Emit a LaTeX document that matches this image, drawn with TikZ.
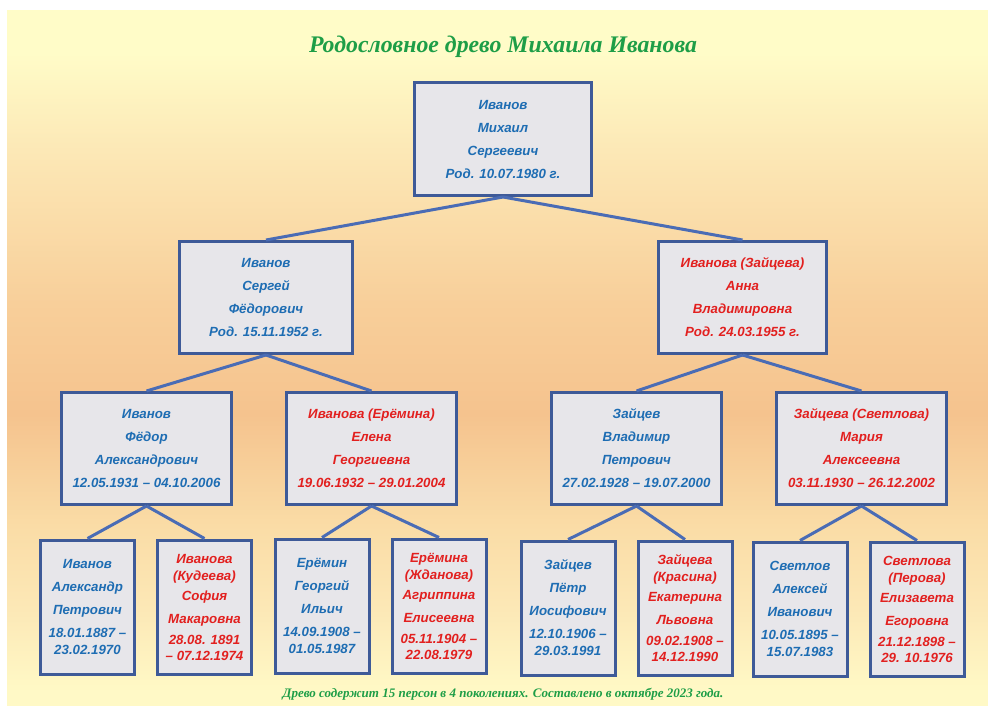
\documentclass[tikz,border=0pt]{standalone}
\usepackage{fontspec}
\setmainfont{Liberation Serif}
\setsansfont{Liberation Sans}
\usepackage{xcolor}
\usepackage{tikz}
\usetikzlibrary{positioning}

\definecolor{boxline}{HTML}{3E5A98}
\definecolor{linkline}{HTML}{4A6CB5}
\definecolor{boxfill}{HTML}{E7E6EA}
\definecolor{manblue}{HTML}{1E6DB3}
\definecolor{womanred}{HTML}{E2201F}
\definecolor{titlegreen}{HTML}{1E9E47}
\definecolor{bgtop}{HTML}{FFFCC8}
\definecolor{bgpale}{HTML}{FCE8B6}
\definecolor{bgpeach}{HTML}{F8CF9A}
\definecolor{bgmid}{HTML}{F5C38E}
\definecolor{bglow}{HTML}{FADCA6}
\definecolor{bgbot}{HTML}{FFF9C6}

\pgfdeclareverticalshading{treebg}{100bp}{color(0bp)=(bgbot); color(26bp)=(bgbot); color(32bp)=(bgpale); color(38bp)=(bglow); color(46bp)=(bgmid); color(54bp)=(bgpeach); color(65bp)=(bgpale); color(72bp)=(bgtop); color(100bp)=(bgtop)}

\begin{document}
\begin{tikzpicture}[x=1pt, y=-1pt, node distance=20pt]
                    % Define styles
                    \tikzstyle{person} = [rectangle, draw=boxline, line width=3pt, fill=boxfill, align=center, inner sep=0pt, font=\sffamily\bfseries\itshape\fontsize{13.3}{23}\selectfont]
                    \tikzstyle{bigbox} = [person, minimum width=173pt, minimum height=112pt]
                    \tikzstyle{smallbox} = [person, minimum width=94pt, minimum height=134pt]
                    \tikzstyle{male} = [text=manblue]
                    \tikzstyle{female} = [text=womanred]
                    \tikzstyle{line} = [draw=linkline, line width=3pt]

                    % Background
                    \fill[white] (0,0) rectangle (988,706);
                    \shade[shading=treebg] (7,11) rectangle (988,706);
                    \useasboundingbox (0,0) rectangle (988,706);

                    % Title
                    \node[text=titlegreen, font=\rmfamily\bfseries\itshape\fontsize{23.8}{28}\selectfont] (title) at (503,47) {Родословное древо Михаила Иванова};

                    % Nodes
                    \node [bigbox, male, minimum width=177pt, minimum height=113pt] (root) at (503,139) {Иванов\\Михаил\\Сергеевич\\Род. 10.07.1980 г.};

                    \node [bigbox, male] (father) at (266,297.5) {Иванов\\Сергей\\Фёдорович\\Род. 15.11.1952 г.};
                    \node [bigbox, female, minimum width=168pt] (mother) at (742.5,297.5) {Иванова (Зайцева)\\Анна\\Владимировна\\Род. 24.03.1955 г.};

                    \node [bigbox, male, minimum width=170pt] (ffather) at (146.5,448.5) {Иванов\\Фёдор\\Александрович\\12.05.1931 – 04.10.2006};
                    \node [bigbox, female, minimum width=170pt, right=52pt of ffather] (fmother) {Иванова (Ерёмина)\\Елена\\Георгиевна\\19.06.1932 – 29.01.2004};
                    \node [bigbox, male, minimum width=170pt] (mfather) at (636.5,448.5) {Зайцев\\Владимир\\Петрович\\27.02.1928 – 19.07.2000};
                    \node [bigbox, female, minimum width=170pt, right=52pt of mfather] (mmother) {Зайцева (Светлова)\\Мария\\Алексеевна\\03.11.1930 – 26.12.2002};

                    \node [smallbox, male] (fff) at (87.5,607) {Иванов\\Александр\\Петрович\\18.01.1887 –\\[-6pt]23.02.1970};
                    \node [smallbox, female, right=20pt of fff] (ffm) {Иванова\\[-6pt](Кудеева)\\[-3pt]София\\Макаровна\\[-2pt]28.08. 1891\\[-7pt]– 07.12.1974};
                    \node [smallbox, male] (fmf) at (322,606) {Ерёмин\\Георгий\\Ильич\\14.09.1908 –\\[-6pt]01.05.1987};
                    \node [smallbox, female, right=20pt of fmf] (fmm) {Ерёмина\\[-6pt](Жданова)\\[-3pt]Агриппина\\Елисеевна\\[-2pt]05.11.1904 –\\[-7pt]22.08.1979};
                    \node [smallbox, male] (mff) at (568,608) {Зайцев\\Пётр\\Иосифович\\12.10.1906 –\\[-6pt]29.03.1991};
                    \node [smallbox, female, right=20pt of mff] (mfm) {Зайцева\\[-6pt](Красина)\\[-3pt]Екатерина\\Львовна\\[-2pt]09.02.1908 –\\[-7pt]14.12.1990};
                    \node [smallbox, male] (mmf) at (800,609) {Светлов\\Алексей\\Иванович\\10.05.1895 –\\[-6pt]15.07.1983};
                    \node [smallbox, female, right=20pt of mmf] (mmm) {Светлова\\[-6pt](Перова)\\[-3pt]Елизавета\\Егоровна\\[-2pt]21.12.1898 –\\[-7pt]29. 10.1976};

                    % Lines
                    \draw [line] (root.south) -- (father.north);
                    \draw [line] (root.south) -- (mother.north);
                    \draw [line] (father.south) -- (ffather.north);
                    \draw [line] (father.south) -- (fmother.north);
                    \draw [line] (mother.south) -- (mfather.north);
                    \draw [line] (mother.south) -- (mmother.north);
                    \draw [line] (ffather.south) -- (fff.north);
                    \draw [line] (ffather.south) -- (ffm.north);
                    \draw [line] (fmother.south) -- (fmf.north);
                    \draw [line] (fmother.south) -- (fmm.north);
                    \draw [line] (mfather.south) -- (mff.north);
                    \draw [line] (mfather.south) -- (mfm.north);
                    \draw [line] (mmother.south) -- (mmf.north);
                    \draw [line] (mmother.south) -- (mmm.north);

                    % Footer
                    \node[text=titlegreen, font=\rmfamily\bfseries\itshape\fontsize{13}{15}\selectfont] (footer) at (503,694) {Древо содержит 15 персон в 4 поколениях. Составлено в октябре 2023 года.};
                \end{tikzpicture}
\end{document}
